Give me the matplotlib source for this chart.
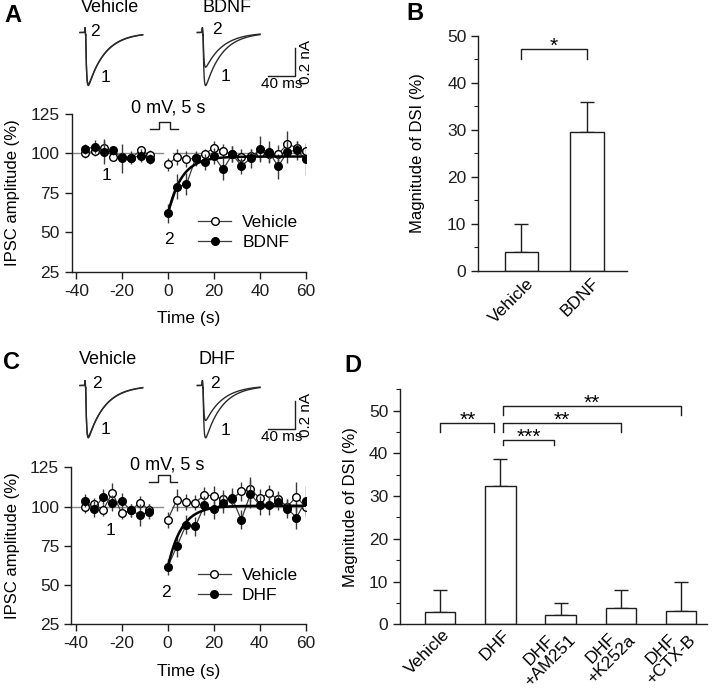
import numpy as np
import matplotlib
matplotlib.use('Agg')
import matplotlib.pyplot as plt
from matplotlib.lines import Line2D
from matplotlib.ticker import MultipleLocator
import matplotlib.transforms as mtransforms

plt.rcParams['font.family'] = ['Liberation Sans', 'DejaVu Sans']
plt.rcParams['axes.unicode_minus'] = False

# ---------------- data ----------------
time_pre = [-36, -32, -28, -24, -20, -16, -12, -8]
time_post = [0, 4, 8, 12, 16, 20, 24, 28, 32, 36, 40, 44, 48, 52, 56, 60]

# Panel A (Vehicle vs BDNF)
A_veh_pre = [100.0, 101.5, 103.6, 97.9, 98.0, 97.0, 101.9, 99.0]
A_veh_pre_sem = [3, 3, 4, 3, 3, 3, 3, 3]
A_bdnf_pre = [102.7, 104.2, 101.0, 101.9, 96.8, 97.2, 98.5, 96.4]
A_bdnf_pre_sem = [3, 4, 8, 3, 9, 4, 4, 3]
A_veh_post = [93.0, 97.9, 96.2, 97.0, 99.6, 103.6, 101.7, 99.5, 97.9, 98.5,
              100.5, 99.5, 99.4, 105.9, 103.6, 101.7]
A_veh_post_sem = [4, 5, 5, 4, 3, 4, 4, 5, 5, 4, 5, 5, 6, 8, 4, 5]
A_bdnf_post = [61.9, 78.8, 80.3, 96.8, 94.3, 98.3, 89.8, 99.4, 92.1, 96.8,
               102.7, 101.0, 91.7, 101.0, 102.0, 96.4]
A_bdnf_post_sem = [6, 8, 7, 5, 5, 5, 7, 5, 5, 6, 8, 7, 8, 7, 6, 10]
A_fit = dict(start=62.0, plateau=98.0, tau=6.0)

# Panel C (Vehicle vs DHF)
C_veh_pre = [100.0, 101.5, 97.9, 108.9, 95.8, 97.5, 102.5, 97.9]
C_veh_pre_sem = [4, 4, 4, 6, 4, 4, 4, 4]
C_dhf_pre = [103.8, 98.3, 106.4, 102.1, 103.6, 97.5, 94.5, 96.8]
C_dhf_pre_sem = [4, 5, 5, 5, 5, 4, 7, 5]
C_veh_post = [91.5, 104.3, 102.8, 102.5, 107.4, 106.8, 104.7, 104.5, 109.8, 111.0,
              105.3, 108.5, 104.7, 100.0, 106.4, 99.4]
C_veh_post_sem = [5, 7, 5, 5, 5, 6, 6, 5, 6, 8, 6, 5, 5, 5, 9, 6]
C_dhf_post = [61.5, 74.6, 88.4, 87.3, 100.7, 98.3, 102.1, 105.5, 91.5, 108.1,
              100.9, 100.9, 102.8, 98.7, 93.0, 103.8]
C_dhf_post_sem = [5, 7, 6, 6, 6, 6, 6, 6, 6, 9, 6, 6, 5, 6, 7, 9]
C_fit = dict(start=61.0, plateau=100.5, tau=6.0)

# Panel B
B_groups = ['Vehicle', 'BDNF']
B_means = [3.9, 29.6]
B_sem = [6.0, 6.4]

# Panel D
D_groups = ['Vehicle', 'DHF', 'DHF\n+AM251', 'DHF\n+K252a', 'DHF\n+CTX-B']
D_means = [2.8, 32.4, 2.2, 3.9, 3.0]
D_sem = [5.2, 6.2, 2.7, 4.1, 6.8]

# Example trace parameters (amplitudes in nA)
A_trace_amps = {'Vehicle': (0.375, 0.365), 'BDNF': (0.375, 0.245)}
C_trace_amps = {'Vehicle': (0.37, 0.36), 'DHF': (0.37, 0.247)}

W, H = 720, 697
fig = plt.figure(figsize=(W / 100, H / 100), dpi=100)
INK = '#1e1e1e'
FS = 12.5      # horizontal texts / tick labels
FSL = 12       # rotated axis labels


def px_axes(l, t, r, b):
    return fig.add_axes([l / W, 1 - b / H, (r - l) / W, (b - t) / H])


def ftext(x, y, s, **kw):
    fig.text(x / W, 1 - y / H, s, **kw)


def style(ax):
    for s in ('top', 'right'):
        ax.spines[s].set_visible(False)
    for s in ('left', 'bottom'):
        ax.spines[s].set_color(INK)
        ax.spines[s].set_linewidth(1.0)
    ax.tick_params(direction='out', length=5, width=1.0, colors=INK, labelsize=FS)
    ax.tick_params(which='minor', direction='out', length=3, width=0.8, colors=INK)


def timecourse(ax, vpre, vpre_s, vpost, vpost_s, dpre, dpre_s, dpost, dpost_s,
               fit, drug, txt_y, lab1, lab2):
    style(ax)
    ax.plot([-42, -2], [100, 100], color='#8a8a8a', lw=1.0, zorder=1)
    ax.plot([2, 60], [100, 100], color='#8a8a8a', lw=1.0, zorder=1)
    ekw = dict(ecolor='#3a3a3a', elinewidth=1.0, capsize=0, lw=0.9, color='#3a3a3a',
               marker='o', ms=5.5, mew=1.0, mec='black')
    for t, y, e in ((time_pre, vpre, vpre_s), (time_post, vpost, vpost_s)):
        ax.errorbar(t, y, yerr=e, mfc='white', zorder=3, **ekw)
    tf = np.linspace(0, 60, 200)
    yf = fit['plateau'] - (fit['plateau'] - fit['start']) * np.exp(-tf / fit['tau'])
    for t, y, e in ((time_pre, dpre, dpre_s), (time_post, dpost, dpost_s)):
        ax.errorbar(t, y, yerr=e, mfc='black', zorder=4, **ekw)
    ax.plot(tf, yf, color='black', lw=1.8, zorder=5)
    ax.set_xlim(-42, 60)
    ax.set_ylim(25, 125)
    ax.set_xticks([-40, -20, 0, 20, 40, 60])
    ax.set_yticks([25, 50, 75, 100, 125])
    ax.set_xlabel('Time (s)', fontsize=FS)
    ax.set_ylabel('IPSC amplitude (%)', fontsize=FSL)
    ax.xaxis.set_label_coords(0.5, -0.25)
    ax.yaxis.set_label_coords(-0.219, 0.5)
    # depolarising pulse
    p_on, p_off, base, top = -4.0, 1.0, 115.5, 119.8
    ax.plot([-8, p_on, p_on, p_off, p_off, 4.2], [base, base, top, top, base, base],
            color=INK, lw=1.0, clip_on=False)
    ax.text(0, txt_y, '0 mV, 5 s', ha='center', va='center', fontsize=13, clip_on=False)
    ax.text(lab1[0], lab1[1], '1', ha='center', va='center', fontsize=FS)
    ax.text(lab2[0], lab2[1], '2', ha='center', va='center', fontsize=FS)
    h = [Line2D([0], [0], color='#3a3a3a', lw=0.9, marker='o', ms=5.5, mfc=c, mec='black')
         for c in ('white', 'black')]
    ax.legend(h, ['Vehicle', drug], loc='upper left', bbox_to_anchor=(0.54, 0.36),
              frameon=False, borderpad=0, borderaxespad=0, handlelength=1.9,
              handletextpad=0.65, labelspacing=0.3, fontsize=FS)


def ipsc(t, amp, onset=8.6, tr=1.2, td=25.0):
    s = np.clip(t - onset, 0, None)
    f = np.exp(-s / td) - np.exp(-s / tr)
    tp = td * tr / (td - tr) * np.log(td / tr)
    norm = np.exp(-tp / td) - np.exp(-tp / tr)
    art = 0.035 * np.exp(-((t - 7.6) / 0.45) ** 2) - 0.02 * np.exp(-((t - 8.4) / 0.4) ** 2)
    return -amp * f / norm + art


def traces(top, bottom, base_px, amps, titles_x, title_y, lab2_pos, lab1_pos):
    ax = px_axes(75, top, 315, bottom)
    ax.axis('off')
    scale_x = 0.667   # px per ms
    scale_y = 141.5   # px per nA
    ax.set_xlim(0, 240 / scale_x)
    ax.set_ylim(-(bottom - base_px) / scale_y, (base_px - top) / scale_y)
    tt = np.linspace(0, 94, 800)
    for (name, (a1, a2)), x0 in zip(amps.items(), (7.5, 183.4)):
        ax.plot(x0 + tt, ipsc(tt, a1), color='#2a2a2a', lw=1.0)
        ax.plot(x0 + tt, ipsc(tt, a2, td=26.0), color='#2a2a2a', lw=1.0)
    ax.plot([290, 330, 330], [-0.31, -0.31, -0.11], color=INK, lw=1.0)
    ax.text(310, -0.315, '40 ms', ha='center', va='top', fontsize=11)
    ax.text(346, -0.21, '0.2 nA', ha='center', va='center', rotation=90, fontsize=11)
    for (name, _), x in zip(amps.items(), titles_x):
        ftext(x, title_y, name, ha='center', va='center', fontsize=13)
    for (x, y) in lab2_pos:
        ftext(x, y, '2', ha='center', va='center', fontsize=FS)
    for (x, y) in lab1_pos:
        ftext(x, y, '1', ha='center', va='center', fontsize=FS)


def bar_panel(ax, groups, means, sems, ylim, ymajor, dx, dy):
    style(ax)
    x = np.arange(len(groups))
    ax.bar(x, means, width=0.505, color='white', edgecolor=INK, lw=1.0, zorder=2)
    ax.errorbar(x, means, yerr=[np.zeros(len(sems)), sems], fmt='none', ecolor=INK,
                elinewidth=1.0, capsize=5.2, capthick=1.0, zorder=1)
    ax.set_ylim(*ylim)
    ax.set_yticks(ymajor)
    ax.yaxis.set_minor_locator(MultipleLocator(5))
    ax.set_xticks([])
    ax.set_ylabel('Magnitude of DSI (%)', fontsize=FSL)
    base = mtransforms.blended_transform_factory(ax.transData, ax.transAxes)
    tr = mtransforms.offset_copy(base, fig=fig, x=dx, y=dy, units='dots')
    for xi, g in zip(x, groups):
        ax.text(xi, 0, g, transform=tr, rotation=45, rotation_mode='anchor', ha='right',
                va='center', multialignment='center', fontsize=FS, linespacing=1.0)


def bracket(ax, x1, x2, y, y1, y2, s):
    ax.plot([x1, x1, x2, x2], [y1, y, y, y2], color=INK, lw=1.0, clip_on=False)
    tr = mtransforms.offset_copy(ax.transData, fig=fig, x=0, y=3, units='dots')
    ax.text((x1 + x2) / 2, y, s, transform=tr, ha='center', va='center', fontsize=15,
            clip_on=False)


# ---------------- Panel A ----------------
axA = px_axes(71.7, 113.9, 305.7, 271.7)
timecourse(axA, A_veh_pre, A_veh_pre_sem, A_veh_post, A_veh_post_sem,
           A_bdnf_pre, A_bdnf_pre_sem, A_bdnf_post, A_bdnf_post_sem, A_fit, 'BDNF',
           128.8, (-26.9, 86.2), (0.6, 45.6))
traces(20, 95, 32.5, A_trace_amps, (110.5, 227.5), 7.5,
       [(95, 31.7), (216.7, 30)], [(106, 77.3), (226, 76.7)])

# ---------------- Panel C ----------------
axC = px_axes(71.0, 467.3, 305.7, 624.3)
timecourse(axC, C_veh_pre, C_veh_pre_sem, C_veh_post, C_veh_post_sem,
           C_dhf_pre, C_dhf_pre_sem, C_dhf_post, C_dhf_post_sem, C_fit, 'DHF',
           126.5, (-25.0, 84.7), (-0.6, 45.3))
traces(373, 448, 385.5, C_trace_amps, (108.3, 217.5), 360,
       [(96.7, 383.3), (215, 383.3)], [(106, 430), (225, 430.7)])

# ---------------- Panel B ----------------
axB = px_axes(478.3, 35.7, 626.7, 270.7)
bar_panel(axB, B_groups, B_means, B_sem, (0, 50), [0, 10, 20, 30, 40, 50], 10, -10)
axB.set_xlim(-0.65, 1.6)
axB.yaxis.set_label_coords(-0.362, 0.5)
bracket(axB, 0, 1, 47.1, 45.0, 45.0, '*')

# ---------------- Panel D ----------------
axD = px_axes(400, 389.3, 706.7, 624.3)
bar_panel(axD, D_groups, D_means, D_sem, (0, 55), [0, 10, 20, 30, 40, 50], 7, -8)
axD.set_xlim(-0.67, 4.43)
axD.yaxis.set_label_coords(-0.137, 0.5)
bracket(axD, 0, 0.897, 47.0, 45.1, 45.1, '**')
bracket(axD, 1.047, 1.894, 43.1, 42.0, 42.0, '***')
bracket(axD, 1.047, 3.0, 47.0, 45.1, 45.1, '**')
bracket(axD, 1.047, 4.0, 51.1, 49.0, 49.0, '**')

# ---------------- panel letters ----------------
for lab, x, y in (('A', 13, 15), ('B', 415, 13), ('C', 12, 363), ('D', 353, 366)):
    ftext(x, y, lab, ha='center', va='center', fontsize=17, fontweight='bold')

fig.savefig('out.png', dpi=100)
